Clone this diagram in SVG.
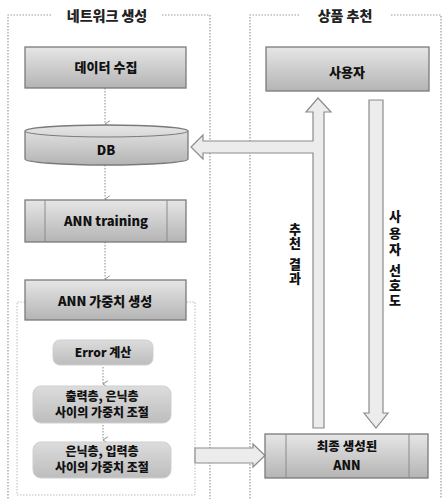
<svg xmlns="http://www.w3.org/2000/svg" width="442" height="499" viewBox="0 0 442 499">
<defs>
<linearGradient id="gBox" x1="0" y1="0" x2="0" y2="1">
<stop offset="0" stop-color="#e6e6e6"/>
<stop offset="0.5" stop-color="#cdcdcd"/>
<stop offset="1" stop-color="#b4b4b4"/>
</linearGradient>
<linearGradient id="gSoft" x1="0" y1="0" x2="0" y2="1">
<stop offset="0" stop-color="#dcdcdc"/>
<stop offset="1" stop-color="#bdbdbd"/>
</linearGradient>
<marker id="mv" viewBox="0 0 10 10" refX="5" refY="9" markerWidth="8" markerHeight="8" orient="auto-start-reverse" markerUnits="userSpaceOnUse">
<path d="M1,3 L5,9 L9,3" fill="none" stroke="#888" stroke-width="1.2"/>
</marker>
</defs>
<style>
.frame{fill:none;stroke:#999;stroke-width:1.2;stroke-dasharray:1.5 1.5}
.inner{fill:none;stroke:#bbb;stroke-width:1;stroke-dasharray:1.5 1.5}
.box{fill:url(#gBox);stroke:#7a7a7a;stroke-width:1.3}
.soft{fill:url(#gSoft);stroke:#cfcfcf;stroke-width:1}
.div{stroke:#8a8a8a;stroke-width:1}
.t{font-family:"Noto Sans CJK KR","Noto Sans",sans-serif;font-weight:900;font-size:13px;fill:#111;text-anchor:middle}
.tf{font-family:"Noto Sans CJK KR","Noto Sans",sans-serif;font-weight:900;font-size:12.5px;fill:#111;text-anchor:middle}
.ts{font-family:"Noto Sans CJK KR","Noto Sans",sans-serif;font-weight:900;font-size:12px;fill:#111;text-anchor:middle}
.title{font-family:"Noto Sans CJK KR","Noto Sans",sans-serif;font-weight:900;font-size:14px;fill:#222;text-anchor:middle}
.thin{fill:none;stroke:#888;stroke-width:1;stroke-dasharray:1.5 1.5}
.big{fill:#ececec;stroke:#8c8c8c;stroke-width:1.2;stroke-linejoin:miter}
</style>
<rect width="442" height="499" fill="#fff"/>
<g id="frame-left">
<path class="frame" d="M51,15 H8 V499 M162,15 H210 V499"/>
<text class="title" x="107" y="21">네트워크 생성</text>
</g>
<g id="frame-right">
<path class="frame" d="M299,15 H250 V499 M391,15 H441 V499"/>
<text class="title" x="345" y="21">상품 추천</text>
</g>
<g id="inner-frame">
<path class="inner" d="M25,302 H17 V495 H195 V302 H186"/>
</g>
<g id="connectors">
<line class="thin" x1="105" y1="88" x2="105" y2="124" marker-end="url(#mv)"/>
<line class="thin" x1="105" y1="165" x2="105" y2="199" marker-end="url(#mv)"/>
<line class="thin" x1="105" y1="242" x2="105" y2="279" marker-end="url(#mv)"/>
<line class="thin" x1="103" y1="367" x2="103" y2="384" marker-end="url(#mv)" stroke="#bbb"/>
<line class="thin" x1="103" y1="425" x2="103" y2="440" marker-end="url(#mv)" stroke="#bbb"/>
<path class="big" d="M318,98 L331,112 L324,112 L324,428 L313,428 L313,153 L203,153 L203,159 L191,147 L203,135 L203,141 L313,141 L313,112 L306,112 Z"/>
<path class="big" d="M369,100 H383 V413 H388 L376,428 L364,413 H369 Z"/>
<path class="big" d="M195,448 H253 V444 L265,455.5 L253,467 V463 H195 Z"/>
</g>
<g id="n-data">
<rect class="box" x="25" y="47" width="161" height="41"/>
<text class="t" x="106" y="72">데이터 수집</text>
</g>
<g id="n-db">
<path class="box" d="M25,131 A81.5,6 0 0 1 188,131 V159 A81.5,6 0 0 1 25,159 Z"/>
<path d="M25,131 A81.5,6 0 0 0 188,131" fill="none" stroke="#7a7a7a" stroke-width="1"/>
<text class="t" x="106" y="155">DB</text>
</g>
<g id="n-train">
<rect class="box" x="25" y="200" width="161" height="42"/>
<line class="div" x1="45" y1="200" x2="45" y2="242"/>
<line class="div" x1="167" y1="200" x2="167" y2="242"/>
<text class="t" x="106" y="226">ANN training</text>
</g>
<g id="n-weight">
<rect class="box" x="25" y="280" width="161" height="40"/>
<text class="t" x="105" y="306">ANN 가중치 생성</text>
</g>
<g id="n-error">
<rect class="soft" x="53" y="340" width="100" height="25" rx="7"/>
<text class="ts" x="103" y="357">Error 계산</text>
</g>
<g id="n-out">
<rect class="soft" x="33" y="386" width="138" height="37" rx="8"/>
<text class="ts" x="102" y="401">출력층, 은닉층</text>
<text class="ts" x="102" y="417">사이의 가중치 조절</text>
</g>
<g id="n-in">
<rect class="soft" x="33" y="442" width="138" height="36" rx="8"/>
<text class="ts" x="102" y="456">은닉층, 입력층</text>
<text class="ts" x="102" y="472">사이의 가중치 조절</text>
</g>
<g id="n-user">
<rect class="box" x="266" y="47" width="163" height="44"/>
<text class="t" x="347" y="77">사용자</text>
</g>
<g id="n-final">
<rect class="box" x="265" y="434" width="163" height="44"/>
<line class="div" x1="286" y1="434" x2="286" y2="478"/>
<line class="div" x1="409" y1="434" x2="409" y2="478"/>
<text class="tf" x="347" y="451">최종 생성된</text>
<text class="tf" x="347" y="470">ANN</text>
</g>
<g id="labels">
<text class="t" x="295 295 295 295" y="234 248 269 283">추천결과</text>
<text class="t" x="395 395 395 395 395 395" y="221 238 254 275 290 305">사용자선호도</text>
</g>
</svg>
